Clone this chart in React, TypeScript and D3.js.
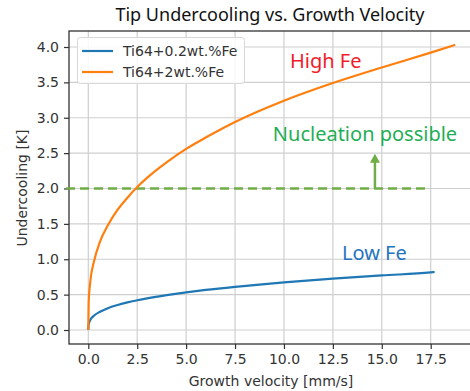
import { useEffect, useRef } from 'react';
import { select, scaleLinear, axisBottom, axisLeft, line, curveMonotoneX } from 'd3';

const velocity = [0, 0.02, 0.1, 0.3, 0.6, 1, 1.5, 2, 2.5, 3, 4, 5, 6, 7.5, 10, 12.5, 15, 17.5];
const lowFe = [0, 0.08, 0.14, 0.204, 0.258, 0.308, 0.353, 0.39, 0.42, 0.447, 0.493, 0.532, 0.566, 0.61, 0.673, 0.726, 0.772, 0.814];
const highFe = [0, 0.4, 0.68, 0.98, 1.25, 1.48, 1.7, 1.87, 2.02, 2.15, 2.37, 2.56, 2.72, 2.94, 3.24, 3.49, 3.71, 3.92];
const lowFeEnd = [17.7, 0.82];
const highFeEnd = [18.75, 4.03];

const xTicks = [0, 2.5, 5, 7.5, 10, 12.5, 15, 17.5];
const yTicks = [0, 0.5, 1, 1.5, 2, 2.5, 3, 3.5, 4];

const threshold = 2.0;
const thresholdEnd = 17.3;
const arrowX = 14.65;
const arrowTop = 2.49;

const series = [
  { name: 'Ti64+0.2wt.%Fe', color: '#1f77b4', x: [...velocity, lowFeEnd[0]], y: [...lowFe, lowFeEnd[1]] },
  { name: 'Ti64+2wt.%Fe', color: '#ff7f0e', x: [...velocity, highFeEnd[0]], y: [...highFe, highFeEnd[1]] },
];

const W = 470;
const H = 391;
const frame = { left: 69, right: 474, top: 31, bottom: 344 };
const tickFont = 'DejaVu Sans, sans-serif';
const noteFont = '"Noto Sans", sans-serif';

const App = () => {
  const svgRef = useRef(null);

  useEffect(() => {
    const x = scaleLinear().domain([0, 17.5]).range([88.3, 430.7]);
    const y = scaleLinear().domain([0, 4]).range([330, 47]);

    const svg = select(svgRef.current);
    svg.selectAll('*').remove();

    svg.append('rect').attr('width', W).attr('height', H).attr('fill', '#fff');

    // grid
    const grid = svg.append('g').attr('stroke', '#cfcfcf').attr('stroke-width', 1.2);
    xTicks.forEach((t) =>
      grid.append('line').attr('x1', x(t)).attr('x2', x(t)).attr('y1', frame.top).attr('y2', frame.bottom)
    );
    yTicks.forEach((t) =>
      grid.append('line').attr('y1', y(t)).attr('y2', y(t)).attr('x1', frame.left).attr('x2', frame.right)
    );

    // axes
    const xAxisGroup = svg
      .append('g')
      .attr('transform', `translate(0, ${frame.bottom})`)
      .call(axisBottom(x).tickValues(xTicks).tickSize(5).tickPadding(5).tickFormat((d) => Number(d).toFixed(1)));
    const yAxisGroup = svg
      .append('g')
      .attr('transform', `translate(${frame.left}, 0)`)
      .call(axisLeft(y).tickValues(yTicks).tickSize(5).tickPadding(5).tickFormat((d) => Number(d).toFixed(1)));
    [xAxisGroup, yAxisGroup].forEach((g) => {
      g.select('.domain').remove();
      g.selectAll('line').attr('stroke', '#333').attr('stroke-width', 1.2);
      g.selectAll('text').attr('fill', '#333').attr('font-size', 14).attr('font-family', tickFont);
    });

    // frame
    svg
      .append('rect')
      .attr('x', frame.left)
      .attr('y', frame.top)
      .attr('width', frame.right - frame.left)
      .attr('height', frame.bottom - frame.top)
      .attr('fill', 'none')
      .attr('stroke', '#333')
      .attr('stroke-width', 1.3);

    // threshold
    svg
      .append('line')
      .attr('x1', 66)
      .attr('x2', x(thresholdEnd))
      .attr('y1', y(threshold))
      .attr('y2', y(threshold))
      .attr('stroke', '#70ad47')
      .attr('stroke-width', 2.5)
      .attr('stroke-dasharray', '9,5');
    svg
      .append('line')
      .attr('x1', x(arrowX))
      .attr('x2', x(arrowX))
      .attr('y1', y(threshold))
      .attr('y2', y(arrowTop) + 8)
      .attr('stroke', '#70ad47')
      .attr('stroke-width', 2.5);
    const ax = x(arrowX);
    const ay = y(arrowTop);
    svg
      .append('path')
      .attr('d', `M${ax},${ay} L${ax - 5},${ay + 9} L${ax + 5},${ay + 9} Z`)
      .attr('fill', '#70ad47');

    // curves
    const gLine = line()
      .x((d) => x(d[0]))
      .y((d) => y(d[1]))
      .curve(curveMonotoneX);
    series.forEach((s) => {
      svg
        .append('path')
        .attr('fill', 'none')
        .attr('stroke', s.color)
        .attr('stroke-width', 2.2)
        .attr('d', gLine(s.x.map((v, i) => [v, s.y[i]])));
    });

    // legend
    const legend = svg.append('g');
    legend
      .append('rect')
      .attr('x', 77.5)
      .attr('y', 37.5)
      .attr('width', 167)
      .attr('height', 46)
      .attr('rx', 3)
      .attr('fill', 'rgba(255,255,255,0.85)')
      .attr('stroke', '#d8d8d8');
    series.forEach((s, i) => {
      const ly = 51 + i * 21;
      legend.append('line').attr('x1', 82).attr('x2', 113).attr('y1', ly).attr('y2', ly).attr('stroke', s.color).attr('stroke-width', 2.2);
      legend
        .append('text')
        .attr('x', 123)
        .attr('y', ly + 5)
        .attr('font-size', 14)
        .attr('font-family', tickFont)
        .attr('fill', '#333')
        .text(s.name);
    });

    // annotations
    svg.append('text').attr('x', 290).attr('y', 68).attr('font-size', 20).attr('font-family', noteFont).attr('fill', '#f01c2a').text('High Fe');
    svg.append('text').attr('x', 342).attr('y', 260).attr('font-size', 20).attr('font-family', noteFont).attr('fill', '#2474c0').text('Low Fe');
    svg
      .append('text')
      .attr('x', 365)
      .attr('y', 141)
      .attr('text-anchor', 'middle')
      .attr('font-size', 20)
      .attr('font-family', noteFont)
      .attr('fill', '#1fae55')
      .text('Nucleation possible');

    // titles
    svg
      .append('text')
      .attr('x', 270)
      .attr('y', 21)
      .attr('text-anchor', 'middle')
      .attr('font-size', 18)
      .attr('font-family', noteFont)
      .attr('fill', '#111')
      .text('Tip Undercooling vs. Growth Velocity');
    svg
      .append('text')
      .attr('x', 271)
      .attr('y', 386)
      .attr('text-anchor', 'middle')
      .attr('font-size', 14)
      .attr('font-family', tickFont)
      .attr('fill', '#333')
      .text('Growth velocity [mm/s]');
    svg
      .append('text')
      .attr('transform', 'translate(27, 188) rotate(-90)')
      .attr('text-anchor', 'middle')
      .attr('font-size', 14)
      .attr('font-family', tickFont)
      .attr('fill', '#333')
      .text('Undercooling [K]');
  }, []);

  return (
    <svg
      ref={svgRef}
      width={W}
      height={H}
      style={{ position: 'absolute', left: 0, top: 0, display: 'block' }}
    />
  );
};

export default App;
